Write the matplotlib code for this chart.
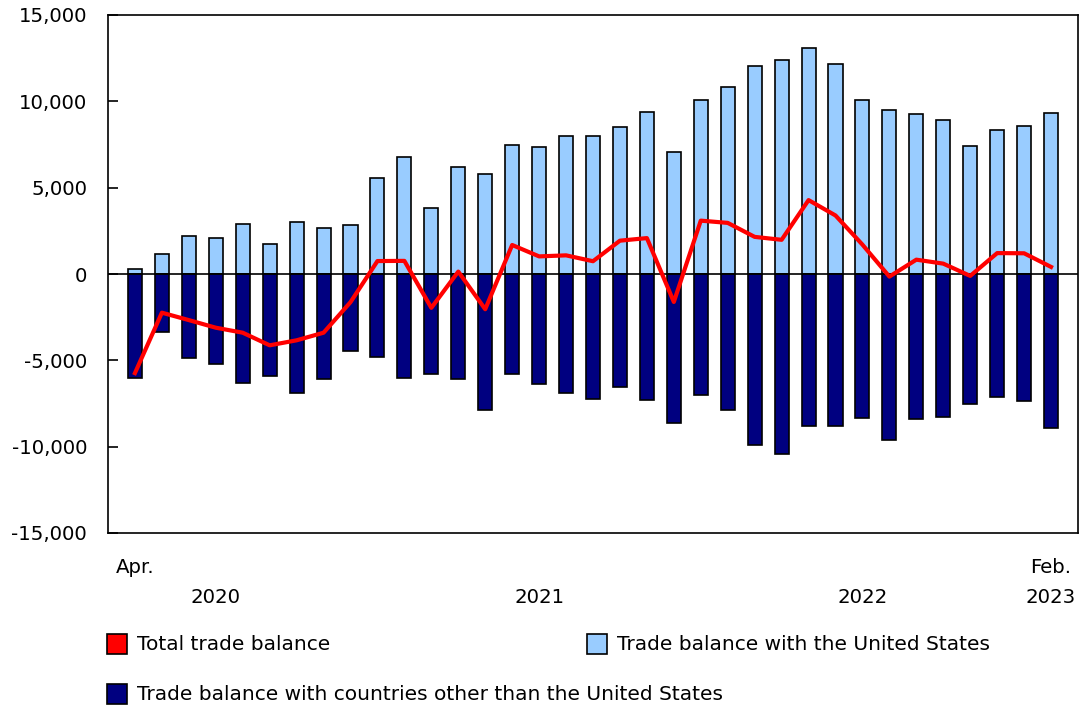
import matplotlib
matplotlib.use('Agg')
import matplotlib.pyplot as plt
from matplotlib.patches import Rectangle
from matplotlib.ticker import FuncFormatter
import numpy as np

# Monthly merchandise trade balance, Apr. 2020 to Feb. 2023 (millions of dollars)
months = ['Apr. 2020', 'May 2020', 'Jun. 2020', 'Jul. 2020', 'Aug. 2020', 'Sep. 2020',
          'Oct. 2020', 'Nov. 2020', 'Dec. 2020', 'Jan. 2021', 'Feb. 2021', 'Mar. 2021',
          'Apr. 2021', 'May 2021', 'Jun. 2021', 'Jul. 2021', 'Aug. 2021', 'Sep. 2021',
          'Oct. 2021', 'Nov. 2021', 'Dec. 2021', 'Jan. 2022', 'Feb. 2022', 'Mar. 2022',
          'Apr. 2022', 'May 2022', 'Jun. 2022', 'Jul. 2022', 'Aug. 2022', 'Sep. 2022',
          'Oct. 2022', 'Nov. 2022', 'Dec. 2022', 'Jan. 2023', 'Feb. 2023']

us_balance = [270, 1140, 2190, 2100, 2920, 1750, 3040, 2670, 2830, 5540, 6770, 3810,
              6210, 5820, 7500, 7380, 7980, 7980, 8500, 9400, 7060, 10090, 10820, 12050,
              12380, 13060, 12170, 10060, 9480, 9250, 8900, 7400, 8340, 8580, 9310]

other_balance = [-6010, -3380, -4860, -5210, -6320, -5880, -6880, -6070, -4460, -4790,
                 -6010, -5770, -6070, -7860, -5820, -6360, -6900, -7240, -6570, -7320,
                 -8650, -7000, -7860, -9900, -10400, -8780, -8780, -8360, -9630, -8420,
                 -8300, -7510, -7130, -7380, -8900]

total_balance = [-5740, -2240, -2670, -3110, -3400, -4130, -3840, -3400, -1630, 750,
                 760, -1960, 140, -2040, 1680, 1020, 1080, 740, 1930, 2080,
                 -1620, 3090, 2960, 2150, 1980, 4280, 3390, 1700, -150, 830,
                 600, -110, 1210, 1200, 410]

# where the lower axis labels go (index into months)
top_labels = [(0, 'Apr.'), (34, 'Feb.')]
year_labels = [(3, '2020'), (15, '2021'), (27, '2022'), (34, '2023')]

legend_items = [('Total trade balance', '#ff0000'),
                ('Trade balance with the United States', '#99ccff'),
                ('Trade balance with countries other than the United States', '#000080')]

plt.rcParams['font.family'] = 'DejaVu Sans'
plt.rcParams['font.size'] = 14

W, H = 1079, 707
fig = plt.figure(figsize=(W / 100, H / 100), dpi=100)
ax = fig.add_axes([108 / W, 1 - 533 / H, (1078 - 108) / W, (533 - 15) / H])

x = np.arange(len(months))
ax.bar(x, us_balance, width=0.52, color='#99ccff', edgecolor='black', linewidth=1.2, zorder=2)
ax.bar(x, other_balance, width=0.52, color='#000080', edgecolor='black', linewidth=1.2, zorder=2)
ax.axhline(0, color='black', linewidth=1.2, zorder=2.5)
ax.plot(x, total_balance, color='#ff0000', linewidth=3, zorder=3)

ax.set_xlim(-1, len(months))
ax.set_ylim(-15000, 15000)
ax.set_yticks(range(-15000, 15001, 5000))
ax.yaxis.set_major_formatter(FuncFormatter(lambda v, p: f'{int(v):,}'))
ax.tick_params(axis='y', direction='in', length=7, width=1.2, pad=15, labelsize=14.2)
ax.set_xticks([])
for s in ax.spines.values():
    s.set_linewidth(1.2)

tr = ax.get_xaxis_transform()
for i, lab in top_labels:
    ax.text(i, -0.067, lab, transform=tr, ha='center', va='center', fontsize=14.2)
for i, lab in year_labels:
    ax.text(i, -0.124, lab, transform=tr, ha='center', va='center', fontsize=14.2)

# legend drawn by hand: two items on the first row, one on the second
legend_pos = [(107, 644), (587, 644), (107, 694)]
for (label, color), (px, py) in zip(legend_items, legend_pos):
    fig.add_artist(Rectangle((px / W, 1 - (py + 10) / H), 20 / W, 20 / H,
                             transform=fig.transFigure, facecolor=color,
                             edgecolor='black', linewidth=1.2))
    fig.text((px + 30) / W, 1 - py / H, label, ha='left', va='center', fontsize=14.5)

fig.savefig('out.png', dpi=100)
